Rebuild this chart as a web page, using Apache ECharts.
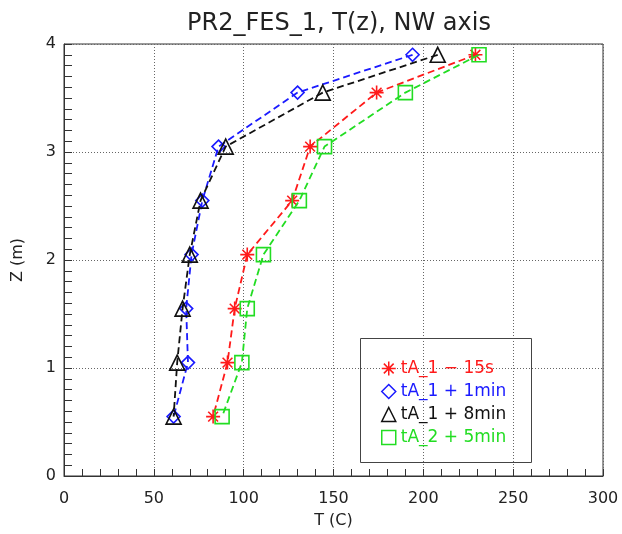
<!DOCTYPE html>
<html>
<head>
<meta charset="utf-8">
<script src="https://cdn.jsdelivr.net/npm/echarts@6/dist/echarts.min.js"></script>
<style>html,body{margin:0;padding:0;background:#fff;}#c{width:622px;height:534px;}</style>
</head>
<body>
<div id="c"></div>
<script>
const zLevels = [3.9, 3.55, 3.05, 2.55, 2.05, 1.55, 1.05, 0.55];
const seriesNames = ['tA_1 \u2212 15s', 'tA_1 + 1min', 'tA_1 + 8min', 'tA_2 + 5min'];
const tRed   = [229, 174, 137, 127, 102, 95, 91, 83];
const tBlue  = [194, 130, 86, 77, 71, 68, 69, 61];
const tBlack = [208, 144, 90, 76, 70, 66, 63, 61];
const tGreen = [231, 190, 145, 131, 111, 102, 99, 88];
const xTicks = [0, 50, 100, 150, 200, 250, 300];
const yTicks = [0, 1, 2, 3, 4];

const colors = ['#ff1a1a', '#1a1aff', '#111111', '#22dd22'];
const asterisk = 'path://M0,5L10,5M5,0L5,10M1.5,1.5L8.5,8.5M8.5,1.5L1.5,8.5';
const symbols = [asterisk, 'diamond', 'triangle', 'rect'];
const sizes = [14, 13, 15, 14];
const tVals = [tRed, tBlue, tBlack, tGreen];
const FONT = 'DejaVu Sans';

const chart = echarts.init(document.getElementById('c'));
const series = tVals.map((arr, i) => ({
  name: seriesNames[i],
  type: 'line',
  xAxisIndex: 0, yAxisIndex: 0,
  data: arr.map((t, k) => [t, zLevels[k]]),
  symbol: symbols[i],
  symbolSize: sizes[i],
  showAllSymbol: true,
  lineStyle: { color: colors[i], width: 1.8, type: [7, 4] },
  itemStyle: { color: 'rgba(0,0,0,0)', borderColor: colors[i], borderWidth: 1.6 },
  emphasis: { disabled: true },
  animation: false,
  z: 3 + i
}));

const tickAxisX = {
  type: 'value', gridIndex: 0, min: xTicks[0], max: xTicks[xTicks.length - 1], interval: 10, position: 'bottom',
  axisLine: { show: false }, axisLabel: { show: false }, splitLine: { show: false },
  axisTick: { show: true, inside: true, length: 7, lineStyle: { color: '#333' } }
};
// helper grid whose left edge sits 8px inside the plot: its outward ticks reach back to the frame
const helperX = { type: 'value', gridIndex: 1, min: 0, max: 1, show: false };
const tickAxisY = {
  type: 'value', gridIndex: 1, min: yTicks[0], max: yTicks[yTicks.length - 1], interval: 0.1, position: 'left',
  axisLine: { show: false }, axisLabel: { show: false }, splitLine: { show: false },
  axisTick: { show: true, inside: false, length: 8, lineStyle: { color: '#333', width: 1 } }
};

chart.setOption({
  animation: false,
  backgroundColor: '#fff',
  title: {
    text: 'PR2_FES_1, T(z), NW axis',
    left: 334, top: 7, textAlign: 'center',
    textStyle: { fontFamily: FONT, fontSize: 24, fontWeight: 'normal', color: '#222' }
  },
  grid: [
    { left: 64, right: 19, top: 44, bottom: 58, show: true, borderColor: '#333', borderWidth: 1, backgroundColor: 'transparent' },
    { left: 72, width: 10, top: 44, bottom: 58, show: false }
  ],
  xAxis: [{
    type: 'value', gridIndex: 0, min: xTicks[0], max: xTicks[xTicks.length - 1], interval: 50,
    name: 'T (C)', nameLocation: 'middle', nameGap: 37,
    nameTextStyle: { fontFamily: FONT, fontSize: 16, color: '#222' },
    axisLine: { show: true, onZero: false, lineStyle: { color: '#333', width: 1 } },
    axisTick: { show: true, inside: true, length: 7, lineStyle: { color: '#333' } },
    axisLabel: { fontFamily: FONT, fontSize: 16, color: '#222', margin: 15 },
    splitLine: { show: true, lineStyle: { color: '#666', width: 1, type: [1, 2] } }
  }, tickAxisX, helperX],
  yAxis: [{
    type: 'value', gridIndex: 0, min: yTicks[0], max: yTicks[yTicks.length - 1], interval: 1, position: 'left',
    name: 'Z (m)', nameLocation: 'middle', nameGap: 38,
    nameTextStyle: { fontFamily: FONT, fontSize: 16, color: '#222' },
    axisLine: { show: true, onZero: false, lineStyle: { color: '#333', width: 1 } },
    axisTick: { show: false },
    axisLabel: { fontFamily: FONT, fontSize: 16, color: '#222', margin: 8 },
    splitLine: { show: true, lineStyle: { color: '#666', width: 1, type: [1, 2] } }
  }, tickAxisY],
  legend: {
    orient: 'vertical', left: 376, top: 355, z: 20,
    itemWidth: 14, itemHeight: 14, itemGap: 6,
    selectedMode: false,
    textStyle: { fontFamily: FONT, fontSize: 17 },
    data: seriesNames.map((n, i) => ({
      name: n, icon: symbols[i],
      itemStyle: { color: 'rgba(0,0,0,0)', borderColor: colors[i], borderWidth: 1.5 },
      textStyle: { color: colors[i], fontFamily: FONT, fontSize: 17 }
    }))
  },
  graphic: [{
    type: 'rect', left: 358, top: 336, z: 1, silent: true,
    shape: { width: 171, height: 124 },
    style: { fill: 'none', stroke: '#444', lineWidth: 1 }
  }],
  series: series
});
</script>
</body>
</html>
